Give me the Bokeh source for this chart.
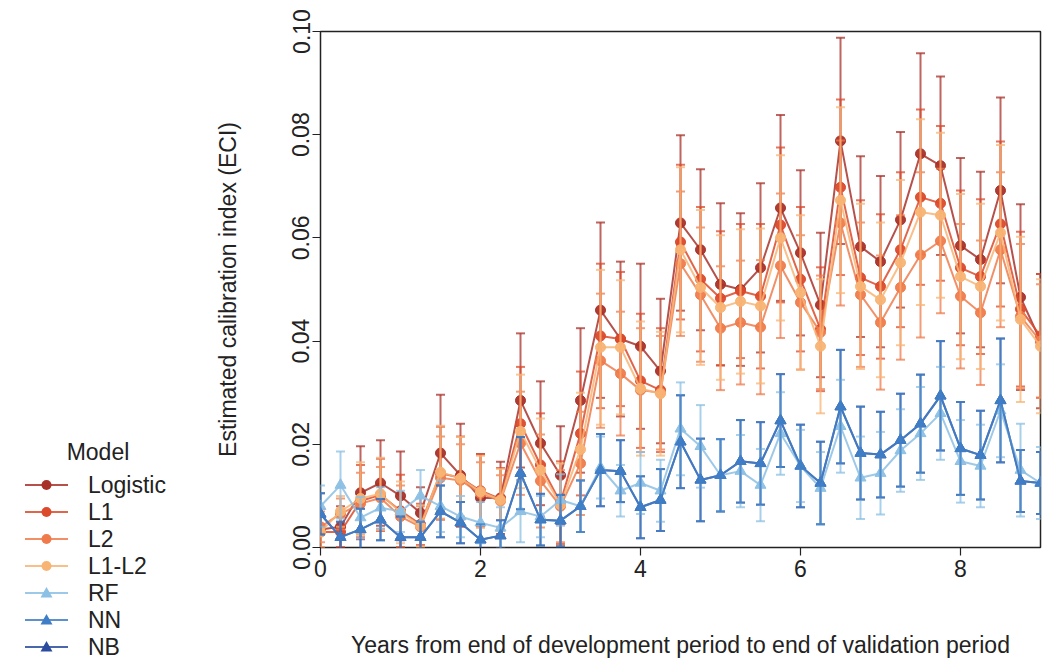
from bokeh.plotting import figure
from bokeh.layouts import row
from bokeh.models import Range1d, FixedTicker, NumeralTickFormatter, Div
from bokeh.embed import file_html
from bokeh.resources import INLINE

years = [0, 0.25, 0.5, 0.75, 1, 1.25, 1.5, 1.75, 2, 2.25, 2.5, 2.75, 3, 3.25, 3.5, 3.75,
         4, 4.25, 4.5, 4.75, 5, 5.25, 5.5, 5.75, 6, 6.25, 6.5, 6.75, 7, 7.25, 7.5, 7.75,
         8, 8.25, 8.5, 8.75, 9]

models = ["Logistic", "L1", "L2", "L1-L2", "RF", "NN", "NB"]

logistic = [0.0035, 0.004, 0.0106, 0.0125, 0.010, 0.0067, 0.0183, 0.014, 0.0096, 0.0096,
            0.0285, 0.0202, 0.014, 0.0285, 0.046, 0.0404, 0.039, 0.0342, 0.0629, 0.0577,
            0.051, 0.050, 0.0542, 0.0658, 0.0571, 0.047, 0.0788, 0.0583, 0.0554, 0.0635,
            0.0763, 0.074, 0.0585, 0.0558, 0.0692, 0.0485, 0.040]
l1 = [0.003, 0.003, 0.009, 0.0102, 0.0071, 0.0045, 0.0144, 0.0135, 0.011, 0.0094,
      0.024, 0.016, 0.0087, 0.0221, 0.041, 0.0404, 0.0323, 0.0305, 0.0592, 0.052,
      0.0483, 0.0497, 0.0487, 0.0625, 0.052, 0.0423, 0.0698, 0.0523, 0.0506, 0.0577,
      0.0679, 0.0667, 0.0542, 0.0525, 0.0627, 0.0462, 0.041]
l2 = [0.004, 0.0065, 0.0085, 0.0096, 0.006, 0.004, 0.0135, 0.013, 0.0105, 0.009,
      0.0202, 0.0129, 0.008, 0.0163, 0.0362, 0.0337, 0.0305, 0.030, 0.055, 0.049,
      0.0425, 0.0436, 0.0427, 0.0546, 0.0475, 0.0417, 0.0629, 0.049, 0.0436, 0.0504,
      0.0567, 0.0594, 0.0487, 0.0455, 0.0577, 0.0448, 0.040]
l1l2 = [0.003, 0.007, 0.0095, 0.0104, 0.0068, 0.0042, 0.0146, 0.0134, 0.0108, 0.0092,
        0.0225, 0.015, 0.0083, 0.019, 0.0388, 0.0388, 0.0308, 0.0298, 0.0577, 0.0504,
        0.0465, 0.0477, 0.0468, 0.060, 0.0494, 0.039, 0.0673, 0.0506, 0.048, 0.0552,
        0.065, 0.0644, 0.0525, 0.0506, 0.061, 0.0442, 0.039]
rf = [0.008, 0.0121, 0.0058, 0.0077, 0.007, 0.010, 0.008, 0.006, 0.0048, 0.0038,
      0.007, 0.006, 0.0092, 0.008, 0.0155, 0.011, 0.0125, 0.011, 0.023, 0.0196,
      0.014, 0.0148, 0.0121, 0.0221, 0.0158, 0.0115, 0.0235, 0.0135, 0.0144, 0.0188,
      0.0221, 0.026, 0.0167, 0.0158, 0.0265, 0.015, 0.0125]
nn = [0.0065, 0.002, 0.0035, 0.0054, 0.002, 0.002, 0.007, 0.0048, 0.0015, 0.0023,
      0.0144, 0.0054, 0.0052, 0.008, 0.015, 0.0148, 0.0078, 0.0092, 0.0205, 0.0131,
      0.014, 0.0167, 0.0163, 0.0246, 0.0158, 0.0125, 0.0273, 0.0183, 0.018, 0.0208,
      0.024, 0.0294, 0.0192, 0.0179, 0.0285, 0.0129, 0.0125]
nb = [0.0065, 0.002, 0.0035, 0.0054, 0.002, 0.002, 0.007, 0.0048, 0.0015, 0.0023,
      0.0144, 0.0054, 0.0052, 0.008, 0.015, 0.0148, 0.0078, 0.0092, 0.0205, 0.0131,
      0.014, 0.0167, 0.0163, 0.0246, 0.0158, 0.0125, 0.0273, 0.0183, 0.018, 0.0208,
      0.024, 0.0294, 0.0192, 0.0179, 0.0285, 0.0129, 0.0125]

# half-widths of the error bars
logistic_err = [0.004, 0.004, 0.009, 0.0083, 0.0086, 0.005, 0.0113, 0.010, 0.0085, 0.007,
                0.013, 0.012, 0.0095, 0.014, 0.017, 0.015, 0.016, 0.014, 0.017, 0.0156,
                0.0157, 0.0148, 0.0164, 0.018, 0.016, 0.014, 0.020, 0.0175, 0.0166, 0.017,
                0.0195, 0.0173, 0.017, 0.017, 0.018, 0.018, 0.013]
l1_err = [0.003, 0.003, 0.007, 0.007, 0.007, 0.004, 0.009, 0.008, 0.007, 0.006,
          0.011, 0.010, 0.008, 0.012, 0.014, 0.013, 0.013, 0.012, 0.015, 0.014,
          0.013, 0.013, 0.014, 0.015, 0.014, 0.012, 0.017, 0.015, 0.014, 0.015,
          0.017, 0.015, 0.015, 0.015, 0.016, 0.015, 0.012]
l2_err = [0.003, 0.003, 0.006, 0.006, 0.006, 0.004, 0.008, 0.007, 0.006, 0.005,
          0.010, 0.009, 0.007, 0.010, 0.013, 0.012, 0.012, 0.011, 0.014, 0.013,
          0.012, 0.012, 0.013, 0.014, 0.013, 0.011, 0.016, 0.014, 0.013, 0.014,
          0.016, 0.014, 0.014, 0.014, 0.015, 0.014, 0.011]
l1l2_err = [0.003, 0.003, 0.007, 0.007, 0.006, 0.004, 0.009, 0.008, 0.007, 0.006,
            0.011, 0.010, 0.008, 0.011, 0.015, 0.013, 0.013, 0.012, 0.016, 0.015,
            0.014, 0.014, 0.015, 0.016, 0.015, 0.013, 0.018, 0.016, 0.015, 0.016,
            0.018, 0.016, 0.016, 0.016, 0.017, 0.016, 0.013]
rf_err = [0.004, 0.0065, 0.004, 0.004, 0.004, 0.005, 0.005, 0.004, 0.004, 0.004,
          0.006, 0.004, 0.005, 0.005, 0.006, 0.005, 0.006, 0.006, 0.009, 0.008,
          0.007, 0.007, 0.007, 0.008, 0.007, 0.007, 0.009, 0.008, 0.008, 0.008,
          0.009, 0.009, 0.008, 0.008, 0.009, 0.009, 0.007]
nn_err = [0.004, 0.003, 0.004, 0.004, 0.004, 0.003, 0.005, 0.004, 0.003, 0.003,
          0.007, 0.005, 0.005, 0.005, 0.007, 0.006, 0.006, 0.006, 0.009, 0.008,
          0.007, 0.008, 0.008, 0.009, 0.008, 0.008, 0.011, 0.009, 0.0083, 0.009,
          0.0095, 0.0106, 0.009, 0.0086, 0.012, 0.006, 0.006]
nb_err = [0.004, 0.003, 0.004, 0.004, 0.004, 0.003, 0.005, 0.004, 0.003, 0.003,
          0.007, 0.005, 0.005, 0.005, 0.007, 0.006, 0.006, 0.006, 0.009, 0.008,
          0.007, 0.008, 0.008, 0.009, 0.008, 0.008, 0.011, 0.009, 0.0083, 0.009,
          0.0095, 0.0106, 0.009, 0.0086, 0.012, 0.006, 0.006]

colors = ["#a8322a", "#dc4a2c", "#ef7b4c", "#f8b474", "#8cc0e4", "#3f7ec6", "#2b4c9e"]
markers = ["circle", "circle", "circle", "circle", "triangle", "triangle", "triangle"]
values = [logistic, l1, l2, l1l2, rf, nn, nb]
errors = [logistic_err, l1_err, l2_err, l1l2_err, rf_err, nn_err, nb_err]

FONT = "Liberation Sans"
FS = "23px"
TXT = "#222222"

# ---- main plot ----
p = figure(width=846, height=660, output_backend="svg", toolbar_location=None,
           x_range=Range1d(0, 9), y_range=Range1d(0, 0.1),
           min_border_left=120, min_border_right=6, min_border_top=31,
           min_border_bottom=109)
p.grid.visible = False
p.outline_line_color = TXT
p.outline_line_width = 1.5
p.background_fill_color = "white"

p.xaxis.ticker = FixedTicker(ticks=[0, 2, 4, 6, 8])
p.yaxis.ticker = FixedTicker(ticks=[0, 0.02, 0.04, 0.06, 0.08, 0.1])
p.yaxis.formatter = NumeralTickFormatter(format="0.00")
p.yaxis.major_label_orientation = "vertical"
for ax in (p.xaxis, p.yaxis):
    ax.axis_line_color = None
    ax.major_tick_line_color = TXT
    ax.major_tick_line_width = 1.2
    ax.major_tick_out = 8
    ax.major_tick_in = 0
    ax.minor_tick_line_color = None
    ax.major_label_text_font = FONT
    ax.major_label_text_font_size = FS
    ax.major_label_text_color = TXT
    ax.axis_label_text_font = FONT
    ax.axis_label_text_font_size = FS
    ax.axis_label_text_font_style = "normal"
    ax.axis_label_text_color = TXT
p.xaxis.axis_label = "Years from end of development period to end of validation period"
p.yaxis.axis_label = "Estimated calibration index (ECI)"
p.xaxis.major_label_standoff = 4
p.xaxis.axis_label_standoff = 52
p.yaxis.major_label_standoff = 3
p.yaxis.axis_label_standoff = 49

order = [0, 1, 2, 3, 6, 4, 5]
for i in order:
    vals = values[i]
    err = errors[i]
    lo = [v - e for v, e in zip(vals, err)]
    hi = [v + e for v, e in zip(vals, err)]
    c = colors[i]
    p.segment(x0=years, y0=lo, x1=years, y1=hi, line_color=c, line_width=2, line_alpha=0.75)
    p.scatter(x=years, y=lo, marker="dash", size=9, line_color=c, line_width=2, line_alpha=0.75)
    p.scatter(x=years, y=hi, marker="dash", size=9, line_color=c, line_width=2, line_alpha=0.75)
    p.line(x=years, y=vals, line_color=c, line_width=2, line_alpha=0.85)
    size = 10 if markers[i] == "circle" else 11
    p.scatter(x=years, y=vals, marker=markers[i], size=size, fill_color=c,
              line_color=c, fill_alpha=0.95)

# ---- legend (left of the plot, drawn as inline SVG in a Div) ----
parts = ['<svg xmlns="http://www.w3.org/2000/svg" width="200" height="660" '
         'style="display:block;position:absolute;left:0;top:0">']
parts.append('<text x="98" y="452" text-anchor="middle" dominant-baseline="central" '
             f'font-family="{FONT}" font-size="23" fill="{TXT}">Model</text>')
for k, (name, c, m) in enumerate(zip(models, colors, markers)):
    y = 485 + 27 * k
    parts.append(f'<line x1="25" y1="{y}" x2="68" y2="{y}" stroke="{c}" '
                 'stroke-width="2" stroke-opacity="0.85"/>')
    if m == "circle":
        parts.append(f'<circle cx="46.5" cy="{y}" r="5" fill="{c}"/>')
    else:
        parts.append(f'<polygon points="46.5,{y - 6} 40.5,{y + 4.5} 52.5,{y + 4.5}" '
                     f'fill="{c}"/>')
    parts.append(f'<text x="88" y="{y}" dominant-baseline="central" '
                 f'font-family="{FONT}" font-size="23" fill="{TXT}">{name}</text>')
parts.append('</svg>')
legend_div = Div(text="".join(parts), width=200, height=660,
                 styles={"position": "relative", "margin": "0", "padding": "0",
                         "overflow": "visible"})

layout = row(legend_div, p, spacing=0)
open("out.html", "w").write(file_html(layout, INLINE))
